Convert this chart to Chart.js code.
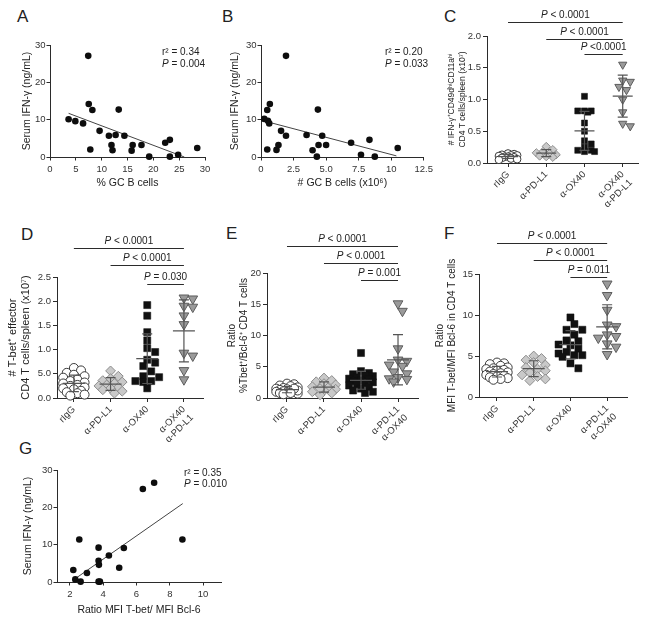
<!DOCTYPE html>
<html>
<head>
<meta charset="utf-8">
<script src="https://cdn.jsdelivr.net/npm/chart.js@4.4.0/dist/chart.umd.min.js"></script>
<style>
  body { margin: 0; background: #fff; width: 650px; height: 623px; position: relative; overflow: hidden;
         font-family: "Liberation Sans", Arial, Helvetica, sans-serif; }
  canvas { position: absolute; }
  .lbl { position: absolute; font-size: 17px; line-height: 17px; color: #222; }
</style>
</head>
<body>
<div class="lbl" style="left:17px;top:8px">A</div>
<div class="lbl" style="left:222px;top:8px">B</div>
<div class="lbl" style="left:444px;top:8px">C</div>
<div class="lbl" style="left:21px;top:226px">D</div>
<div class="lbl" style="left:226px;top:225px">E</div>
<div class="lbl" style="left:444px;top:225px">F</div>
<div class="lbl" style="left:19px;top:440px">G</div>

<canvas id="cA"></canvas>
<canvas id="cB"></canvas>
<canvas id="cC"></canvas>
<canvas id="cD"></canvas>
<canvas id="cE"></canvas>
<canvas id="cF"></canvas>
<canvas id="cG"></canvas>

<script>
// ---- data ----
// A: serum IFN-γ vs % GC B cells
const gcPct = [3.6, 4.9, 6.4, 7.4, 7.5, 8.2, 7.8, 9.6, 11.4, 12.7, 11.9, 12.1, 13.3, 14.4, 16.0, 15.8, 17.7, 19.2, 22.3, 23.2, 23.2, 24.8, 28.5];
const ifnA  = [10.1, 9.6, 9.0, 27.1, 14.2, 12.6, 2.0, 7.0, 5.7, 5.9, 3.2, 1.8, 12.7, 5.7, 3.2, 1.7, 3.2, 0.1, 3.8, 4.6, 0.1, 0.6, 2.4];
const fitAx = [3.6, 26.0];
const fitAy = [11.7, 0.0];
const statsA = ['r² = 0.34', 'P = 0.004'];

// B: serum IFN-γ vs # GC B cells (x10^6)
const gcNum = [0.25, 0.48, 0.68, 0.53, 0.63, 0.48, 1.92, 1.54, 1.92, 1.19, 1.34, 3.5, 3.96, 4.37, 4.29, 4.42, 4.7, 5.0, 6.92, 7.68, 8.33, 8.74, 10.5];
const ifnB  = [10.2, 12.6, 14.2, 9.7, 9.0, 2.0, 27.1, 7.0, 5.7, 1.9, 3.2, 5.9, 1.8, 12.7, 0.1, 3.2, 5.7, 3.2, 3.8, 0.6, 4.6, 0.1, 2.4];
const fitBx = [0.3, 10.4];
const fitBy = [9.6, 0.3];
const statsB = ['r² = 0.20', 'P = 0.033'];

// G: serum IFN-γ vs ratio MFI T-bet / MFI Bcl-6
const mfiRatio = [2.2, 2.32, 2.56, 2.64, 3.02, 3.72, 3.72, 3.74, 3.72, 3.8, 4.34, 4.96, 5.24, 6.38, 7.06, 8.76];
const ifnG     = [3.2, 0.7, 11.4, 0.1, 2.4, 9.2, 5.7, 4.6, 0.1, 0.1, 7.1, 3.8, 9.1, 24.9, 26.6, 11.4];
const fitGx = [2.35, 8.78];
const fitGy = [1.0, 21.0];
const statsG = ['r² = 0.35', 'P = 0.010'];

// group labels
const groupsCD = ['rIgG', 'α-PD-L1', 'α-OX40', ['α-OX40', 'α-PD-L1']];
const groupsEF = ['rIgG', 'α-PD-L1', 'α-OX40', ['α-PD-L1', 'α-OX40']];

// C: # IFN-γ+ CD49d hi CD11a hi CD4 T cells/spleen (x10^7)
const cIgG   = [0.15, 0.14, 0.13, 0.12, 0.12, 0.11, 0.1, 0.1, 0.09, 0.08, 0.07, 0.06, 0.05];
const cPdl1  = [0.26, 0.21, 0.18, 0.16, 0.15, 0.13, 0.11, 0.1, 0.09];
const cOx40  = [1.05, 0.82, 0.82, 0.82, 0.8, 0.63, 0.5, 0.35, 0.3, 0.25, 0.2, 0.18, 0.18, 0.2];
const cCombo = [1.55, 1.3, 1.28, 1.2, 1.15, 1.0, 0.8, 0.62, 0.58];
const pC = ['P < 0.0001', 'P < 0.0001', 'P <0.0001'];

// D: # T-bet+ effector CD4 T cells/spleen (x10^7)
const dIgG   = [0.62, 0.57, 0.52, 0.48, 0.45, 0.42, 0.38, 0.35, 0.32, 0.3, 0.27, 0.25, 0.22, 0.2, 0.18, 0.15, 0.12, 0.1, 0.07, 0.05];
const dPdl1  = [0.56, 0.45, 0.4, 0.36, 0.33, 0.3, 0.27, 0.25, 0.22, 0.2, 0.17, 0.14, 0.1];
const dOx40  = [1.92, 1.7, 1.36, 1.19, 1.03, 0.95, 0.79, 0.73, 0.66, 0.55, 0.45, 0.43, 0.35, 0.33, 0.35, 0.2];
const dCombo = [2.07, 2.05, 1.9, 1.88, 1.7, 1.52, 0.93, 0.87, 0.57, 0.38];
const pD = ['P < 0.0001', 'P < 0.0001', 'P = 0.030'];

// E: ratio %Tbet+/Bcl-6+ CD4 T cells
const eIgG   = [2.3, 2.2, 2.0, 1.9, 1.7, 1.6, 1.5, 1.4, 1.3, 1.2, 1.1, 1.0, 1.0, 0.9, 0.8, 0.7, 0.6, 1.2, 1.5, 0.8];
const ePdl1  = [3.2, 2.8, 2.6, 2.3, 2.1, 1.8, 1.6, 1.4, 1.2, 1.0, 0.8, 0.5, 1.5];
const eOx40  = [7.2, 4.3, 4.0, 3.8, 3.6, 3.5, 3.3, 3.1, 3.0, 2.8, 2.7, 2.5, 2.4, 2.2, 2.0, 1.8, 1.5, 1.2, 1.0, 0.8];
const eCombo = [15.1, 13.9, 7.9, 6.1, 5.9, 5.3, 5.1, 4.2, 3.9, 3.3, 3.1, 2.6, 3.0];
const pE = ['P < 0.0001', 'P < 0.0001', 'P = 0.001'];

// F: ratio MFI T-bet/MFI Bcl-6 in CD4 T cells
const fIgG   = [4.2, 4.1, 4.0, 3.8, 3.6, 3.5, 3.4, 3.3, 3.2, 3.1, 3.0, 2.9, 2.8, 2.7, 2.6, 2.5, 2.4, 2.3, 2.2, 2.1];
const fPdl1  = [5.0, 4.7, 4.5, 4.2, 3.9, 3.6, 3.4, 3.2, 3.0, 2.7, 2.5, 2.2, 2.0];
const fOx40  = [9.7, 8.9, 8.2, 8.2, 7.6, 6.9, 6.8, 6.4, 6.3, 5.9, 5.5, 5.3, 5.1, 4.9, 5.1, 4.1, 3.5];
const fCombo = [13.8, 12.4, 10.6, 8.8, 8.6, 7.6, 7.4, 7.2, 6.5, 6.1, 5.2];
const pF = ['P < 0.0001', 'P < 0.0001', 'P = 0.011'];

// comparisons (group index, 1-based): all vs the combination
const pairs = [[1, 4], [2, 4], [3, 4]];

// tick values / labels
const ticksIFN = [0, 10, 20, 30];
const ticksAx = [0, 5, 10, 15, 20, 25, 30];
const ticksBx = [0, 2.5, 5, 7.5, 10, 12.5];
const lblBx = ['0', '2.5', '5.0', '7.5', '10', '12.5'];
const ticksGx = [2, 4, 6, 8, 10];
const ticksCy = [0, 0.5, 1, 1.5, 2];
const lblCy = ['0.0', '0.5', '1.0', '1.5', '2.0'];
const ticksDy = [0, 0.5, 1, 1.5, 2, 2.5];
const lblDy = ['0.0', '5.0', '1.0', '1.5', '2.0', '2.5'];
const ticksEy = [0, 5, 10, 15, 20];
const ticksFy = [0, 5, 10, 15];

// ---- drawing ----
const FONT = '"Liberation Sans", Arial, Helvetica, sans-serif';
const INK = '#2b2b2b';
Chart.defaults.font.family = FONT;
Chart.defaults.color = INK;

// marker look per group: rIgG, α-PD-L1, α-OX40, combination
const MARKS = [
  { style: 'circle',  r: 4.5, bg: '#ffffff', bd: '#3a3a3a', bw: 1 },
  { style: 'rectRot', r: 4.9, bg: '#c9c9c9', bd: '#8c8c8c', bw: 1 },
  { style: 'rect',    r: 5.0, bg: '#111111', bd: '#111111', bw: 0.5 },
  { style: 'triangle', r: 5.6, rot: 180, bg: '#9a9a9a', bd: '#5c5c5c', bw: 1 }
];

function axis(o, size) {
  return {
    type: 'linear', min: o.min, max: o.max,
    afterBuildTicks: s => { s.ticks = o.ticks.map(v => ({ value: v })); },
    afterFit: s => { if (s.isHorizontal()) s.height = size; else s.width = size; },
    grid: { drawOnChartArea: false, drawTicks: true, tickLength: o.tl || 3.5, color: INK, lineWidth: 1 },
    border: { color: INK, width: 1 },
    ticks: {
      autoSkip: false, color: '#333', padding: o.tp, font: { family: FONT, size: 9.5 },
      minRotation: o.rot || 0, maxRotation: o.rot || 0,
      callback: (v, i) => o.labels[i]
    },
    title: { display: !!o.title, text: o.title, color: '#222',
             font: { family: FONT, size: o.ts || 10.5 }, padding: o.tpad || 0 }
  };
}

function rich(ctx, s, x, y, size, align) {
  const it = s[0] === 'P';
  const head = it ? 'P' : '', tail = it ? s.slice(1) : s;
  ctx.font = 'italic ' + size + 'px ' + FONT;
  const w1 = ctx.measureText(head).width;
  ctx.font = size + 'px ' + FONT;
  const w2 = ctx.measureText(tail).width;
  const x0 = align === 'center' ? x - (w1 + w2) / 2 : x;
  ctx.textAlign = 'left';
  ctx.textBaseline = 'alphabetic';
  ctx.fillStyle = '#222';
  if (it) { ctx.font = 'italic ' + size + 'px ' + FONT; ctx.fillText(head, x0, y); }
  ctx.font = size + 'px ' + FONT;
  ctx.fillText(tail, x0 + w1, y);
}

function statsPlugin(lines, x, ys) {
  return { id: 'stats', afterDraw(chart) {
    const ctx = chart.ctx;
    ctx.save();
    lines.forEach((s, i) => rich(ctx, s, x, ys[i], 10, 'left'));
    ctx.restore();
  }};
}

function bracketPlugin(texts, levels) {
  return { id: 'brackets', afterDraw(chart) {
    const { ctx, scales: { x } } = chart;
    ctx.save();
    ctx.strokeStyle = INK; ctx.lineWidth = 1;
    pairs.forEach((p, i) => {
      const x1 = x.getPixelForValue(p[0]), x2 = x.getPixelForValue(p[1]);
      const ly = levels[i] + 0.5;
      ctx.beginPath(); ctx.moveTo(x1, ly); ctx.lineTo(x2, ly); ctx.stroke();
      rich(ctx, texts[i], (x1 + x2) / 2, ly - 5, 10, 'center');
    });
    ctx.restore();
  }};
}

function meanSdPlugin(groups, half) {
  return { id: 'meanSd', afterDatasetsDraw(chart) {
    const { ctx, scales: { x, y } } = chart;
    ctx.save();
    ctx.strokeStyle = '#555'; ctx.lineWidth = 1.2;
    groups.forEach((vals, g) => {
      const n = vals.length;
      const m = vals.reduce((a, b) => a + b, 0) / n;
      const sd = Math.sqrt(vals.reduce((a, b) => a + (b - m) * (b - m), 0) / (n - 1));
      const cx = x.getPixelForValue(g + 1);
      const ym = y.getPixelForValue(m), yh = y.getPixelForValue(m + sd), yl = y.getPixelForValue(m - sd);
      ctx.beginPath();
      ctx.moveTo(cx - half, ym); ctx.lineTo(cx + half, ym);
      ctx.moveTo(cx, yh); ctx.lineTo(cx, yl);
      ctx.moveTo(cx - 5, yh); ctx.lineTo(cx + 5, yh);
      ctx.moveTo(cx - 5, yl); ctx.lineTo(cx + 5, yl);
      ctx.stroke();
    });
    ctx.restore();
  }};
}

// simple beeswarm: horizontal offsets (px) so markers do not pile up
function swarm(vals, pxY, gap, maxOff) {
  const order = vals.map((v, i) => i).sort((a, b) => vals[b] - vals[a]);
  const step = gap * 0.55;
  const cands = [0];
  for (let k = 1; k * step <= maxOff; k++) cands.push(k * step, -k * step);
  const placed = [], off = [];
  order.forEach(i => {
    const py = vals[i] * pxY;
    let best = 0, bestD = -1;
    for (const dx of cands) {
      const d = Math.min(Infinity, ...placed.map(p => Math.hypot(p.x - dx, p.y - py)));
      if (d >= gap) { best = dx; break; }
      if (d > bestD) { bestD = d; best = dx; }
    }
    off[i] = best;
    placed.push({ x: best, y: py });
  });
  return off;
}

function build(id, box, area, datasets, xo, yo, plugins) {
  const cv = document.getElementById(id);
  cv.width = box.w; cv.height = box.h;
  cv.style.left = box.left + 'px'; cv.style.top = box.top + 'px';
  return new Chart(cv, {
    type: 'scatter',
    data: { datasets },
    options: {
      responsive: false, animation: false, events: [],
      plugins: { legend: { display: false }, tooltip: { enabled: false } },
      layout: { padding: { left: 0, top: area.t, right: box.w - area.r, bottom: 0 } },
      scales: { x: axis(xo, box.h - area.b), y: axis(yo, area.l) }
    },
    plugins
  });
}

function scatterPanel(id, box, area, xs, ys, fx, fy, xo, yo, stats, statX, statY) {
  const sets = [
    { data: xs.map((x, i) => ({ x, y: ys[i] })), pointRadius: 3.3, pointBackgroundColor: '#0d0d0d',
      pointBorderWidth: 0, clip: false },
    { type: 'line', data: fx.map((x, i) => ({ x, y: fy[i] })), borderColor: '#444', borderWidth: 1,
      pointRadius: 0, fill: false, clip: false }
  ];
  build(id, box, area, sets, xo, yo, [statsPlugin(stats, statX, statY)]);
}

function groupPanel(id, box, area, groups, labels, xr, yo, ptexts, levels, k, half) {
  const pxX = (area.r - area.l) / (xr[1] - xr[0]);
  const pxY = (area.b - area.t) / (yo.max - yo.min);
  const sets = groups.map((vals, g) => {
    const m = MARKS[g];
    const off = swarm(vals, pxY, m.r * 2 * k * 0.72, 13 * k);
    return {
      data: vals.map((v, i) => ({ x: g + 1 + off[i] / pxX, y: v })),
      pointStyle: m.style, pointRotation: m.rot || 0, pointRadius: m.r * k,
      pointBackgroundColor: m.bg, pointBorderColor: m.bd, pointBorderWidth: m.bw, clip: false
    };
  });
  const xo = { min: xr[0], max: xr[1], ticks: [1, 2, 3, 4], labels, rot: 45, tl: 4, tp: 2 };
  build(id, box, area, sets, xo, yo,
        [meanSdPlugin(groups, half), bracketPlugin(ptexts, levels)]);
}

// A
scatterPanel('cA', { left: 0, top: 0, w: 215, h: 200 }, { l: 50, t: 45, r: 205, b: 157 },
  gcPct, ifnA, fitAx, fitAy,
  { min: 0, max: 30, ticks: ticksAx, labels: ticksAx.map(String), tp: 3, title: '% GC B cells', tpad: { top: 0, bottom: 10.7 } },
  { min: 0, max: 30, ticks: ticksIFN, labels: ticksIFN.map(String), tp: 1, title: 'Serum IFN-γ (ng/mL)', tpad: { top: 20.7 } },
  statsA, 162, [54.5, 66.5]);

// B
scatterPanel('cB', { left: 210, top: 0, w: 226, h: 200 }, { l: 51, t: 45, r: 216, b: 157 },
  gcNum, ifnB, fitBx, fitBy,
  { min: 0, max: 12.5, ticks: ticksBx, labels: lblBx, tp: 3, title: '# GC B cells (x10⁶)', tpad: { top: 0, bottom: 10.7 } },
  { min: 0, max: 30, ticks: ticksIFN, labels: ticksIFN.map(String), tp: 1, title: 'Serum IFN-γ (ng/mL)', tpad: { top: 18.7 } },
  statsB, 175, [54.5, 66.5]);

// G
scatterPanel('cG', { left: 0, top: 420, w: 232, h: 203 }, { l: 57, t: 50, r: 221, b: 162 },
  mfiRatio, ifnG, fitGx, fitGy,
  { min: 1.22, max: 11.08, ticks: ticksGx, labels: ticksGx.map(String), tp: 3, title: 'Ratio MFI T-bet/ MFI Bcl-6', tpad: { top: 0, bottom: 6.7 } },
  { min: 0, max: 30, ticks: ticksIFN, labels: ticksIFN.map(String), tp: 1, title: 'Serum IFN-γ (ng/mL)', tpad: { top: 21.7 } },
  statsG, 184, [55.5, 66.5]);

// C
groupPanel('cC', { left: 430, top: 0, w: 220, h: 215 }, { l: 57, t: 36, r: 208, b: 163 },
  [cIgG, cPdl1, cOx40, cCombo], groupsCD, [0.45, 4.4],
  { min: 0, max: 2, ticks: ticksCy, labels: lblCy, tp: 2, tl: 4,
    title: ['# IFN-γ⁺CD49dʰⁱCD11aʰⁱ', 'CD4 T cells/spleen (x10⁷)'], ts: 8.5, tpad: { top: 17 } },
  pC, [22, 39, 54], 0.85, 10);

// D
groupPanel('cD', { left: 0, top: 200, w: 215, h: 250 }, { l: 57, t: 77, r: 203, b: 198 },
  [dIgG, dPdl1, dOx40, dCombo], groupsCD, [0.54, 4.52],
  { min: 0, max: 2.5, ticks: ticksDy, labels: lblDy, tp: 2, tl: 4,
    title: ['# T-bet⁺ effector', 'CD4 T cells/spleen (x10⁷)'], ts: 11, tpad: { top: 6.4 } },
  pD, [48, 65, 84], 1, 11);

// E
groupPanel('cE', { left: 215, top: 200, w: 220, h: 250 }, { l: 52, t: 73, r: 203, b: 198 },
  [eIgG, ePdl1, eOx40, eCombo], groupsEF, [0.46, 4.54],
  { min: 0, max: 20, ticks: ticksEy, labels: ticksEy.map(String), tp: 2, tl: 4,
    title: ['Ratio', '%Tbet⁺/Bcl-6⁺ CD4 T cells'], ts: 10, tpad: { top: 11 } },
  pE, [46, 63, 80], 1, 11);

// F
groupPanel('cF', { left: 430, top: 200, w: 220, h: 250 }, { l: 49, t: 74, r: 197, b: 197 },
  [fIgG, fPdl1, fOx40, fCombo], groupsEF, [0.51, 4.54],
  { min: 0, max: 15, ticks: ticksFy, labels: ticksFy.map(String), tp: 2, tl: 4,
    title: ['Ratio', 'MFI T-bet/MFI Bcl-6 in CD4 T cells'], ts: 10, tpad: { top: 4 } },
  pF, [43, 60, 77], 1, 11);
</script>
</body>
</html>
